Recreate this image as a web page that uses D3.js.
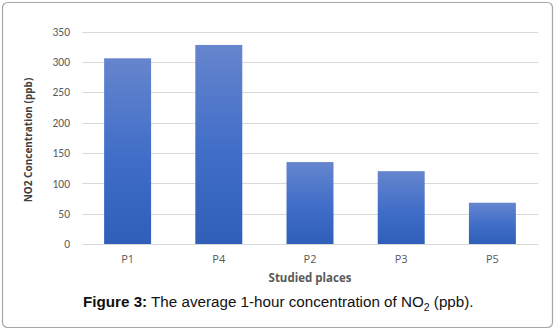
<!DOCTYPE html>
<html><head><meta charset="utf-8">
<script src="https://cdn.jsdelivr.net/npm/d3@7"></script>
<style>
html,body{margin:0;padding:0;background:#fff;}
svg{display:block;}
</style>
</head><body>
<svg id="c" width="555" height="331"></svg>
<script>
const categories = ["P1","P4","P2","P3","P5"];
const values = [306, 328, 135, 120, 68];
const yTicks = [0,50,100,150,200,250,300,350];
const yTitle = "NO2 Concentration (ppb)";
const xTitle = "Studied places";

const svg = d3.select("#c");
// frame
svg.append("rect").attr("x",2.5).attr("y",2.5).attr("width",550).attr("height",325)
  .attr("rx",5).attr("fill","#fff").attr("stroke","#a6a6a6").attr("stroke-width",1.2);

const defs = svg.append("defs");
const g = defs.append("linearGradient").attr("id","bg").attr("x1",0).attr("y1",0).attr("x2",0).attr("y2",1);
g.append("stop").attr("offset","0%").attr("stop-color","#6685cd");
g.append("stop").attr("offset","55%").attr("stop-color","#3f6dc8");
g.append("stop").attr("offset","100%").attr("stop-color","#2f5fb9");

const x = d3.scaleBand().domain(categories).range([82,538]).paddingInner(0.485).paddingOuter(0.2425);
const y = d3.scaleLinear().domain([0,350]).range([244,31.6]);

// gridlines
svg.append("g").selectAll("line").data(yTicks).join("line")
  .attr("x1",82).attr("x2",538).attr("y1",d=>Math.round(y(d))+0.5).attr("y2",d=>Math.round(y(d))+0.5)
  .attr("stroke","#d9d9d9").attr("stroke-width",1);

// y axis labels
const ya = svg.append("g").attr("transform","translate(76,0)")
  .call(d3.axisLeft(y).tickValues(yTicks).tickSize(0).tickPadding(6));
ya.select(".domain").remove();
ya.selectAll("text").attr("font-family","Calibri, Carlito, 'Open Sans', sans-serif").attr("font-size",11.5)
  .attr("fill","#595959");

// bars
svg.append("g").selectAll("rect").data(values).join("rect")
  .attr("x",(d,i)=>x(categories[i])).attr("width",x.bandwidth())
  .attr("y",d=>y(d)).attr("height",d=>y(0)-y(d)).attr("fill","url(#bg)");

// x axis labels
const xa = svg.append("g").attr("transform","translate(0,244)")
  .call(d3.axisBottom(x).tickSize(0).tickPadding(11));
xa.select(".domain").remove();
xa.selectAll("text").attr("font-family","'Open Sans', sans-serif").attr("font-size",11)
  .attr("fill","#595959");

// axis titles
svg.append("text").attr("x",310).attr("y",282).attr("text-anchor","middle")
  .attr("font-family","'Open Sans', sans-serif").attr("font-weight","bold").attr("font-size",11.5)
  .attr("fill","#595959").text(xTitle);
svg.append("text").attr("transform","translate(32,140) rotate(-90)").attr("text-anchor","middle")
  .attr("font-family","'Open Sans', sans-serif").attr("font-weight","bold").attr("font-size",10)
  .attr("fill","#404040").text(yTitle);

// caption
const cap = svg.append("text").attr("x",83).attr("y",307)
  .attr("font-family","'Liberation Sans', Arial, sans-serif").attr("font-size",15.2).attr("fill","#111");
cap.append("tspan").attr("font-weight","bold").text("Figure 3:");
cap.append("tspan").text(" The average 1-hour concentration of NO");
cap.append("tspan").attr("font-size",10.5).attr("dy",4).text("2");
cap.append("tspan").attr("dy",-4).text(" (ppb).");
</script>
</body></html>
